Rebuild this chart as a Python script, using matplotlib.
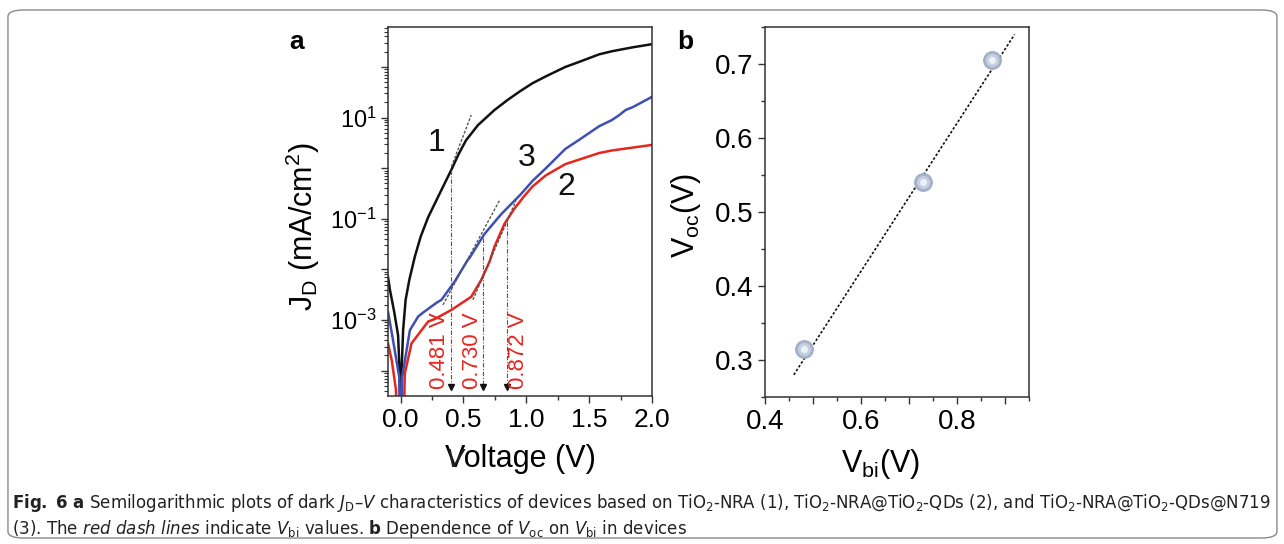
import numpy as np
import matplotlib
matplotlib.use("Agg")
import matplotlib.pyplot as plt
import matplotlib.font_manager as fm
from matplotlib.patches import FancyBboxPatch
from matplotlib.ticker import MultipleLocator, LogLocator, NullFormatter

# ---- data (panel a: log10 of |J_D| in mA/cm^2) ----
v_black = [-0.10, -0.085, -0.05, -0.02, -0.008, 0.0, 0.008, 0.02, 0.04, 0.07,
           0.113, 0.16, 0.219, 0.311, 0.404, 0.46, 0.52, 0.615, 0.747, 0.852,
           0.95, 1.05, 1.16, 1.31, 1.42, 1.58, 1.68, 1.85, 2.0]
logj_black = [-2.15, -2.4, -2.85, -3.3, -4.0, -5.5, -4.0, -3.2, -2.6, -2.2,
              -1.75, -1.35, -0.97, -0.5, -0.03, 0.27, 0.55, 0.85, 1.15, 1.35,
              1.52, 1.68, 1.82, 2.0, 2.1, 2.25, 2.31, 2.39, 2.45]

v_blue = [-0.10, -0.06, -0.011, 0.0, 0.013, 0.074, 0.14, 0.18, 0.285, 0.325,
          0.43, 0.535, 0.549, 0.667, 0.8, 0.958, 1.05, 1.156, 1.31, 1.42,
          1.58, 1.68, 1.74, 1.79, 1.85, 2.0]
logj_blue = [-2.84, -3.4, -4.12, -5.5, -4.12, -3.2, -2.93, -2.85, -2.66, -2.6,
             -2.24, -1.81, -1.77, -1.3, -0.91, -0.51, -0.25, 0.0, 0.38, 0.56,
             0.83, 0.95, 1.05, 1.15, 1.21, 1.41]

v_red = [-0.10, -0.07, -0.037, -0.02, 0.0, 0.02, 0.034, 0.087, 0.219, 0.272,
         0.404, 0.562, 0.641, 0.707, 0.747, 0.826, 0.905, 0.984, 1.05, 1.156,
         1.31, 1.42, 1.58, 1.68, 2.0]
logj_red = [-3.46, -3.8, -4.38, -5.5, -5.5, -5.5, -4.05, -3.46, -3.03, -2.98,
            -2.8, -2.54, -2.21, -1.85, -1.55, -1.1, -0.8, -0.55, -0.36, -0.14,
            0.08, 0.17, 0.30, 0.35, 0.46]

curve_labels = ["1", "3", "2"]
curve_label_v = [0.287, 1.0, 1.32]
curve_label_logj = [0.5, 0.2, -0.37]

# V_bi drop lines, tangents and their red labels
vbi_line_v = [0.404, 0.654, 0.844]
vbi_line_top = [-0.03, -1.37, -1.07]
vbi_bottom = -4.32
vbi_text = ["0.481 V", "0.730 V", "0.872 V"]
vbi_text_v = [0.311, 0.572, 0.937]
tangent_v = [(0.404, 0.562), (0.337, 0.786), (0.575, 0.918)]
tangent_logj = [(0.03, 1.05), (-2.70, -0.64), (-2.60, -0.64)]

ytick_exp = [-4, -3, -2, -1, 0, 1, 2]
ytick_labels = ["", r"$\mathdefault{10^{-3}}$", "", r"$\mathdefault{10^{-1}}$", "",
                r"$\mathdefault{10^{1}}$", ""]

# ---- data (panel b) ----
vbi = [0.481, 0.730, 0.872]
voc = [0.315, 0.541, 0.706]
fit_x = [0.46, 0.92]
fit_y = [0.28, 0.74]

BLACK = "#111111"
BLUE = "#3f4fb3"
RED = "#e5261f"

names = {f.name for f in fm.fontManager.ttflist}
CAP_FONT = "Liberation Sans Narrow" if "Liberation Sans Narrow" in names else "DejaVu Sans"

plt.rcParams["font.family"] = ["Liberation Sans", "DejaVu Sans"]
plt.rcParams["mathtext.fontset"] = "custom"
plt.rcParams["mathtext.rm"] = CAP_FONT
plt.rcParams["mathtext.it"] = CAP_FONT + ":italic"
plt.rcParams["mathtext.bf"] = CAP_FONT + ":bold"

fig = plt.figure(figsize=(12.84, 5.44), dpi=100)

# ---------------- panel a ----------------
ax = fig.add_axes([0.3022, 0.2721, 0.2056, 0.6783])
ax.plot(v_black, 10 ** np.array(logj_black), color=BLACK, lw=1.8)
ax.plot(v_blue, 10 ** np.array(logj_blue), color=BLUE, lw=1.8)
ax.plot(v_red, 10 ** np.array(logj_red), color=RED, lw=1.8)
ax.set_yscale("log")
ax.set_xlim(-0.1, 2.0)
ax.set_ylim(10 ** -4.5, 10 ** 2.79)

for (x0, x1), (y0, y1) in zip(tangent_v, tangent_logj):
    ax.plot([x0, x1], [10 ** y0, 10 ** y1], color="#555555", lw=1,
            ls=(0, (2, 1.2)))
for x, top in zip(vbi_line_v, vbi_line_top):
    ax.plot([x, x], [10 ** top, 10 ** vbi_bottom], color="#555555", lw=0.8,
            ls=(0, (4, 1.5, 1, 1.5)))
    ax.plot([x], [10 ** vbi_bottom], marker="v", color=BLACK, ms=4)
for x, t in zip(vbi_text_v, vbi_text):
    ax.text(x, 10 ** -4.36, t, rotation=90, ha="center", va="bottom",
            color=RED, fontsize=16)
for x, y, t in zip(curve_label_v, curve_label_logj, curve_labels):
    ax.text(x, 10 ** y, t, ha="center", va="center", fontsize=23, color=BLACK)

ax.set_yticks([10.0 ** e for e in ytick_exp])
ax.set_yticklabels(ytick_labels)
ax.yaxis.set_minor_locator(LogLocator(base=10, subs=np.arange(2, 10), numticks=20))
ax.yaxis.set_minor_formatter(NullFormatter())
ax.xaxis.set_major_locator(MultipleLocator(0.5))
ax.xaxis.set_minor_locator(MultipleLocator(0.25))
ax.xaxis.set_major_formatter(plt.FuncFormatter(lambda v, p: f"{v:.1f}"))
ax.tick_params(axis="both", which="both", direction="out", color="#333333",
               top=False, right=False)
ax.tick_params(axis="x", which="major", labelsize=19, length=5, width=1, pad=4)
ax.tick_params(axis="x", which="minor", length=3, width=1)
ax.tick_params(axis="y", which="major", labelsize=17, length=5, width=1, pad=3)
ax.tick_params(axis="y", which="minor", length=3, width=0.8)
for s in ax.spines.values():
    s.set_linewidth(1.1)
    s.set_color("#333333")
ax.set_xlabel("Voltage (V)", fontsize=22)
ax.xaxis.set_label_coords(0.5, -0.13)
ax.set_ylabel(r"J$_\mathregular{D}$ (mA/cm$^\mathregular{2}$)", fontsize=22)
ax.yaxis.set_label_coords(-0.25, 0.46)
ax.text(0.253, -0.173, "V", transform=ax.transAxes, fontsize=19, style="italic",
        ha="center", va="center", color="#222222")

# ---------------- panel b ----------------
bx = fig.add_axes([0.5958, 0.2702, 0.2056, 0.6801])
bx.plot(fit_x, fit_y, color=BLACK, lw=1.2, ls=(0, (1.5, 1.2)), zorder=2)
bx.scatter(vbi, voc, s=160, color="#a9b6cd", edgecolors="#9aa7bf", lw=0.8, zorder=3)
bx.scatter(vbi, voc, s=85, color="#c6d0e0", lw=0, zorder=4)
bx.scatter(vbi, voc, s=25, color="#eef2f8", lw=0, zorder=5)
bx.set_xlim(0.4, 0.95)
bx.set_ylim(0.25, 0.75)
bx.xaxis.set_major_locator(MultipleLocator(0.1))
bx.xaxis.set_minor_locator(MultipleLocator(0.05))
bx.xaxis.set_major_formatter(
    plt.FuncFormatter(lambda v, p: f"{v:.1f}" if round(v * 10) % 2 == 0 else ""))
bx.yaxis.set_major_locator(MultipleLocator(0.1))
bx.yaxis.set_minor_locator(MultipleLocator(0.05))
bx.yaxis.set_major_formatter(plt.FuncFormatter(lambda v, p: f"{v:.1f}"))
bx.tick_params(axis="both", which="both", direction="out", color="#333333",
               top=False, right=False)
bx.tick_params(axis="both", which="major", labelsize=20, length=5, width=1)
bx.tick_params(axis="both", which="minor", length=3, width=1)
for s in bx.spines.values():
    s.set_linewidth(1.1)
    s.set_color("#333333")
bx.set_xlabel(r"V$_\mathregular{bi}$(V)", fontsize=22)
bx.xaxis.set_label_coords(0.436, -0.135)
bx.set_ylabel(r"V$_\mathregular{oc}$(V)", fontsize=22)
bx.yaxis.set_label_coords(-0.235, 0.49)

# panel letters
fig.text(0.2313, 0.9228, "a", fontsize=19, fontweight="bold", ha="center", va="center")
fig.text(0.5335, 0.9228, "b", fontsize=19, fontweight="bold", ha="center", va="center")

# caption
line1 = (r"$\mathbf{Fig.\ 6\ a}$ Semilogarithmic plots of dark $\mathit{J}_\mathrm{D}$–$\mathit{V}$"
         r" characteristics of devices based on TiO$_\mathrm{2}$-NRA ($\mathit{1}$),"
         r" TiO$_\mathrm{2}$-NRA@TiO$_\mathrm{2}$-QDs ($\mathit{2}$), and"
         r" TiO$_\mathrm{2}$-NRA@TiO$_\mathrm{2}$-QDs@N719")
line2 = (r"($\mathit{3}$). The $\mathit{red\ dash\ lines}$ indicate $\mathit{V}_\mathrm{bi}$ values."
         r" $\mathbf{b}$ Dependence of $\mathit{V}_\mathrm{oc}$ on $\mathit{V}_\mathrm{bi}$ in devices")
cap_size = 13.5 if CAP_FONT != "DejaVu Sans" else 12
fig.text(0.0095, 1 - 503 / 544, line1, fontsize=cap_size, family=CAP_FONT,
         color="#222222", ha="left", va="center")
fig.text(0.0095, 1 - 529 / 544, line2, fontsize=cap_size, family=CAP_FONT,
         color="#222222", ha="left", va="center")

# rounded frame around the figure
fig.patches.append(FancyBboxPatch((0.0062, 0.011), 0.9883, 0.9706,
                                  boxstyle="round,pad=0,rounding_size=0.012",
                                  transform=fig.transFigure, fill=False,
                                  ec="#8a8a8a", lw=1.0))

fig.savefig("out.png", dpi=100)
